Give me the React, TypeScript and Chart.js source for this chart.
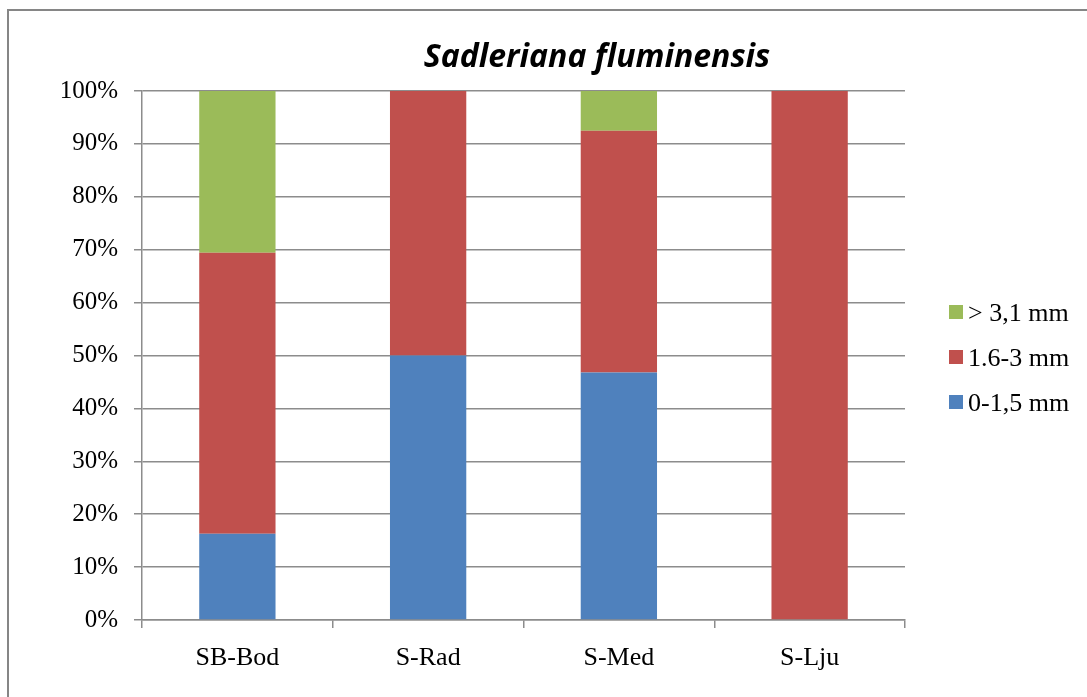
import React, { useEffect, useRef } from "react";
import { Chart, registerables } from "chart.js";

Chart.register(...registerables);

const categories = ["SB-Bod", "S-Rad", "S-Med", "S-Lju"];
const small = [16.3, 50, 46.8, 0]; // 0-1,5 mm
const medium = [53.1, 50, 45.7, 100]; // 1.6-3 mm
const large = [30.6, 0, 7.5, 0]; // > 3,1 mm
const seriesLabels = ["0-1,5 mm", "1.6-3 mm", "> 3,1 mm"];
const seriesColors = ["#4F81BD", "#C0504D", "#9BBB59"];
const yTicks = [0, 10, 20, 30, 40, 50, 60, 70, 80, 90, 100];
const titleText = "Sadleriana fluminensis";

const GRID = "#8c8c8c";

export default function App() {
  const ref = useRef<HTMLCanvasElement>(null);
  useEffect(() => {
    document.body.style.overflow = "hidden";
    const titlePlugin = {
      id: "customTitle",
      afterDraw(chart: any) {
        const ctx = chart.ctx;
        ctx.save();
        ctx.font = 'italic bold 32px "Open Sans"';
        ctx.fillStyle = "#000";
        ctx.textAlign = "center";
        ctx.textBaseline = "alphabetic";
        ctx.fillText(titleText, 597, 67);
        ctx.restore();
      },
    };
    const legendPlugin = {
      id: "customLegend",
      afterDraw(chart: any) {
        const ctx = chart.ctx;
        const ds = chart.data.datasets.slice().reverse();
        ctx.save();
        ctx.font = '26px "Liberation Serif"';
        ctx.textAlign = "left";
        ctx.textBaseline = "alphabetic";
        ds.forEach((d: any, i: number) => {
          const cy = 312 + i * 45;
          ctx.fillStyle = d.backgroundColor;
          ctx.fillRect(949, cy - 7, 14, 14);
          ctx.fillStyle = "#000";
          ctx.fillText(d.label, 968, cy + 9);
        });
        ctx.restore();
      },
    };
    const chart = new Chart(ref.current!, {
      type: "bar",
      data: {
        labels: categories,
        datasets: [
          { label: seriesLabels[0], data: small, backgroundColor: seriesColors[0] },
          { label: seriesLabels[1], data: medium, backgroundColor: seriesColors[1] },
          { label: seriesLabels[2], data: large, backgroundColor: seriesColors[2] },
        ],
      },
      plugins: [titlePlugin, legendPlugin],
      options: {
        responsive: false,
        animation: false,
        devicePixelRatio: 1,
        layout: { padding: { left: 0, top: 91, right: 182, bottom: 0 } },
        datasets: { bar: { categoryPercentage: 1, barPercentage: 0.4 } },
        plugins: {
          legend: { display: false },
          title: { display: false },
          tooltip: { enabled: false },
        },
        scales: {
          x: {
            stacked: true,
            afterFit(scale: any) {
              scale.height = 77;
            },
            grid: {
              offset: true,
              drawOnChartArea: false,
              drawTicks: true,
              tickLength: 8,
              color: GRID,
              lineWidth: 1.5,
            },
            border: { display: true, color: GRID, width: 1.5 },
            ticks: {
              color: "#000",
              font: { family: "Liberation Serif", size: 26 },
              padding: 15,
              maxRotation: 0,
            },
          },
          y: {
            stacked: true,
            min: 0,
            max: 100,
            afterFit(scale: any) {
              scale.width = 142;
            },
            afterBuildTicks(scale: any) {
              scale.ticks = yTicks.map((v) => ({ value: v }));
            },
            grid: {
              drawTicks: true,
              tickLength: 8,
              color: GRID,
              lineWidth: 1.5,
            },
            border: { display: true, color: GRID, width: 1.5 },
            ticks: {
              color: "#000",
              font: { family: "Liberation Serif", size: 25 },
              padding: 16,
              callback: (v: any) => v + "%",
            },
          },
        },
      },
    });
    return () => chart.destroy();
  }, []);
  return (
    <div style={{ position: "absolute", left: 0, top: 0, width: 1087, height: 697, background: "#fff" }}>
      <canvas ref={ref} width={1087} height={697} style={{ position: "absolute", left: 0, top: 0 }} />
      <div
        style={{
          position: "absolute",
          left: 7,
          top: 9,
          width: 1080,
          height: 688,
          borderLeft: "2px solid #868686",
          borderTop: "2px solid #868686",
          boxSizing: "border-box",
          pointerEvents: "none",
        }}
      />
    </div>
  );
}
